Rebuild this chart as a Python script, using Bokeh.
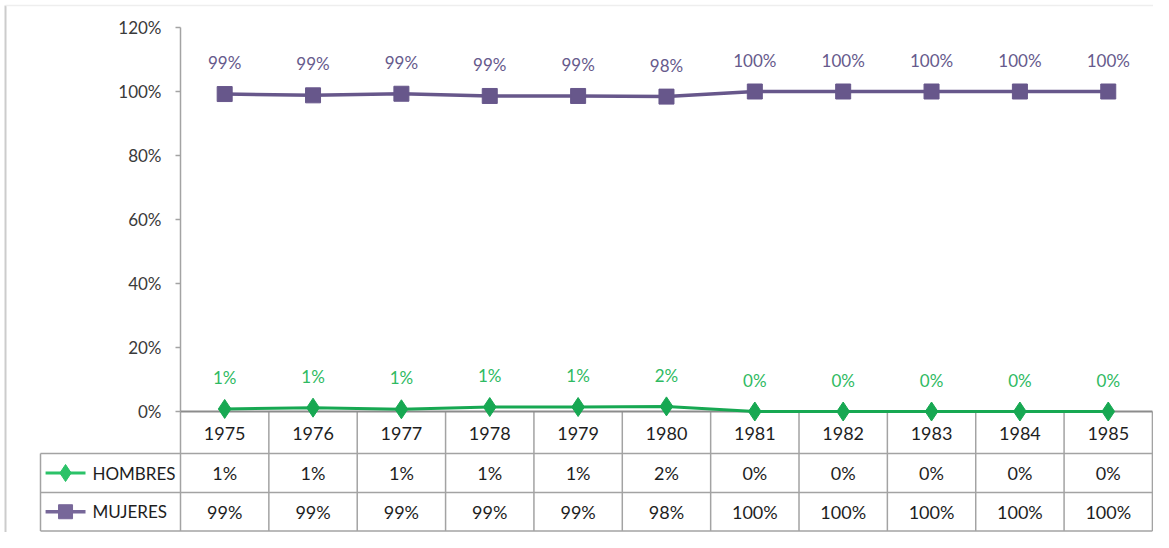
from bokeh.plotting import figure
from bokeh.models import Range1d, FixedTicker
from bokeh.core.properties import value
from bokeh.embed import file_html
from bokeh.resources import INLINE

# ---- data ----
years = ["1975", "1976", "1977", "1978", "1979", "1980",
         "1981", "1982", "1983", "1984", "1985"]
hombres = [0.8, 1.2, 0.7, 1.4, 1.4, 1.6, 0.0, 0.0, 0.0, 0.0, 0.0]
mujeres = [99.2, 98.8, 99.3, 98.6, 98.6, 98.4, 100.0, 100.0, 100.0, 100.0, 100.0]
series_names = ["HOMBRES", "MUJERES"]
y_ticks = [0, 20, 40, 60, 80, 100, 120]

# ---- style / layout ----
FONT = value("Lato")
GREEN = "#17a852"
GREEN_LBL = "#2fba62"
GREEN_KEY = "#2bc268"
PURPLE = "#67578b"
PURPLE_LBL = "#665a8c"
PURPLE_KEY = "#776799"
GRID = "#a3a3a3"
TEXT = "#1e1e1e"

n = len(years)
xs = list(range(n))
y_top = y_ticks[-1]

# table geometry in data units (column width = 1, 3.2 px per %)
Y_HDR = -13.125
Y_MID = -25.31
Y_BOT = -37.34
ROW1 = (Y_HDR + Y_MID) / 2
ROW2 = (Y_MID + Y_BOT) / 2
X_LEG = -2.0844
LBL_OFF = 9.8
X_FRAME_L = -2.4805   # outer chart border (left)
Y_FRAME_T = 126.875   # outer chart border (top)
Y_START = -37.81

p = figure(width=1153, height=532, output_backend="svg", toolbar_location=None,
           x_range=Range1d(-2.5032, 10.512), y_range=Range1d(Y_START, 127.5),
           min_border_left=3, min_border_right=0, min_border_top=3,
           min_border_bottom=0)
p.outline_line_color = None
p.grid.visible = False
p.background_fill_color = "white"
p.border_fill_color = "white"

# outer chart border
p.segment(x0=[X_FRAME_L], y0=[Y_FRAME_T], x1=[X_FRAME_L], y1=[Y_START],
          line_color="#cccccc", line_width=2)
p.segment(x0=[X_FRAME_L], y0=[Y_FRAME_T], x1=[n], y1=[Y_FRAME_T],
          line_color="#eeeeee", line_width=1.5)

# y axis (percent) placed at the left edge of the first year column
ya = p.yaxis[0]
ya.fixed_location = -0.5
ya.ticker = FixedTicker(ticks=y_ticks)
ya.major_label_overrides = {t: f"{t}%" for t in y_ticks}
ya.major_tick_in = 0
ya.major_tick_out = 5
ya.minor_tick_out = 0
ya.minor_tick_in = 0
ya.axis_line_color = None
ya.major_tick_line_color = GRID
ya.major_tick_line_width = 1.5
ya.major_label_text_font = "Lato"
ya.major_label_text_font_size = "17px"
ya.major_label_text_color = "#3a3a3a"
ya.major_label_standoff = 14
# visible axis line from 0% to 120%
p.segment(x0=[-0.5], y0=[0], x1=[-0.5], y1=[y_top], line_color=GRID, line_width=1.5)

# x axis (years) at 0%
xa = p.xaxis[0]
xa.fixed_location = 0
xa.ticker = FixedTicker(ticks=xs)
xa.major_label_overrides = {i: years[i] for i in xs}
xa.axis_line_color = None
xa.major_tick_in = 0
xa.major_tick_out = 0
xa.minor_tick_in = 0
xa.minor_tick_out = 0
xa.major_label_text_font = "Lato"
xa.major_label_text_font_size = "18px"
xa.major_label_text_color = TEXT
xa.major_label_standoff = 15

# ---- data table grid ----
col_edges = [i - 0.5 for i in range(n + 1)]
p.segment(x0=col_edges, y0=[0] * len(col_edges), x1=col_edges, y1=[Y_BOT] * len(col_edges),
          line_color=GRID, line_width=1.5)
p.segment(x0=[X_LEG] * 3, y0=[Y_HDR, Y_MID, Y_BOT], x1=[n - 0.5] * 3, y1=[Y_HDR, Y_MID, Y_BOT],
          line_color=GRID, line_width=1.5)
p.segment(x0=[X_LEG], y0=[Y_HDR], x1=[X_LEG], y1=[Y_BOT], line_color=GRID, line_width=1.5)
# zero line
p.segment(x0=[-0.5], y0=[0], x1=[n - 0.5], y1=[0], line_color="#8c8c8c", line_width=2)

# ---- series ----
p.line(xs, mujeres, line_color=PURPLE, line_width=3.5)
p.scatter(xs, mujeres, marker="square", size=15, fill_color=PURPLE, line_color=PURPLE)
p.line(xs, hombres, line_color=GREEN, line_width=3)
p.scatter(xs, hombres, marker="diamond", size=19, fill_color=GREEN, line_color=GREEN)

# data labels
p.text(x=xs, y=[v + LBL_OFF for v in mujeres], text=[f"{round(v)}%" for v in mujeres],
       text_align="center", text_baseline="middle", text_font=FONT,
       text_font_size="17px", text_color=PURPLE_LBL)
p.text(x=xs, y=[v + LBL_OFF for v in hombres], text=[f"{round(v)}%" for v in hombres],
       text_align="center", text_baseline="middle", text_font=FONT,
       text_font_size="17px", text_color=GREEN_LBL)

# table values
p.text(x=xs, y=[ROW1] * n, text=[f"{round(v)}%" for v in hombres],
       text_align="center", text_baseline="middle", text_font=FONT,
       text_font_size="18px", text_color=TEXT)
p.text(x=xs, y=[ROW2] * n, text=[f"{round(v)}%" for v in mujeres],
       text_align="center", text_baseline="middle", text_font=FONT,
       text_font_size="18px", text_color=TEXT)

# legend keys in the table
KEY_X0, KEY_X1, KEY_XM, KEY_TX = -2.027, -1.575, -1.801, -1.496
p.line([KEY_X0, KEY_X1], [ROW1, ROW1], line_color=GREEN_KEY, line_width=3)
p.scatter([KEY_XM], [ROW1], marker="diamond", size=17, fill_color=GREEN_KEY, line_color=GREEN_KEY)
p.line([KEY_X0, KEY_X1], [ROW2, ROW2], line_color=PURPLE_KEY, line_width=3.5)
p.scatter([KEY_XM], [ROW2], marker="square", size=14, fill_color=PURPLE_KEY, line_color=PURPLE_KEY)
p.text(x=[KEY_TX, KEY_TX], y=[ROW1, ROW2], text=series_names,
       text_align="left", text_baseline="middle", text_font=FONT,
       text_font_size="17px", text_color=TEXT)

open("out.html", "w").write(file_html(p, INLINE))
